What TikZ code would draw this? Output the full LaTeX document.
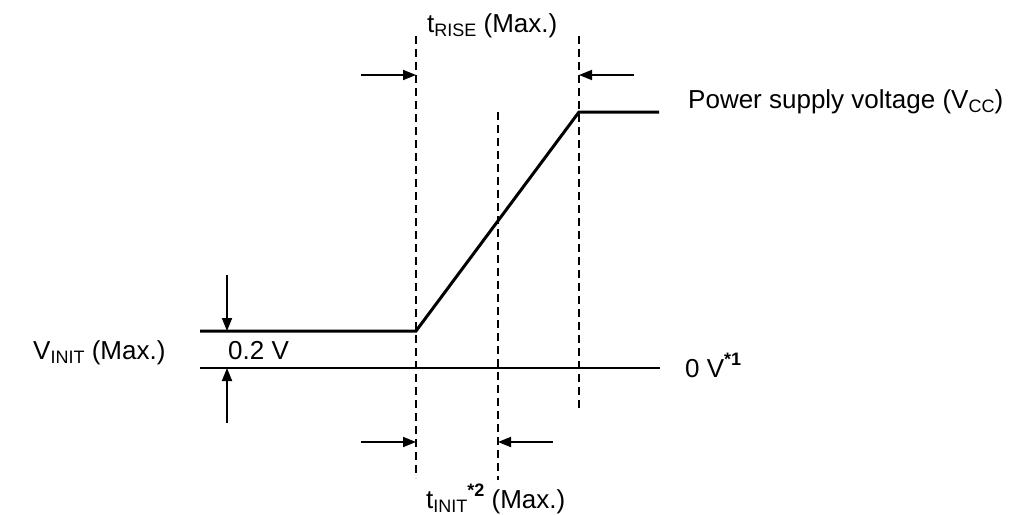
\documentclass[tikz,border=0pt]{standalone}
\usepackage{fontspec}
\setmainfont{Liberation Sans}
\usetikzlibrary{arrows.meta}
\newcommand{\mysub}[1]{\raisebox{-0.3ex}{\fontsize{18}{18}\selectfont #1}}
\newcommand{\mysup}[1]{\raisebox{0.85ex}{\fontsize{18}{18}\selectfont\bfseries #1}}
\begin{document}
\begin{tikzpicture}[x=1pt,y=-1pt,
  lbl/.style={inner sep=0pt,font=\fontsize{26}{29}\selectfont},
  sig/.style={line width=3pt},
  base/.style={line width=1.8pt},
  guide/.style={line width=1.6pt,dash pattern=on 8pt off 5pt},
  dim/.style={line width=1.8pt,-{Triangle[length=13pt,width=10pt]}}]
\useasboundingbox (0,0) rectangle (1017,514);
% coordinates
\coordinate (b0) at (200,368);
\coordinate (b1) at (660,368);
\coordinate (l0) at (200,331);
\coordinate (l1) at (416,331);
\coordinate (h0) at (579,112);
\coordinate (h1) at (659,112);
\coordinate (d1t) at (416,36);
\coordinate (d1b) at (416,478);
\coordinate (d2t) at (498,112);
\coordinate (d2b) at (498,480);
\coordinate (d3t) at (579,36);
\coordinate (d3b) at (579,408);
\coordinate (ra0) at (361,75);
\coordinate (ra1) at (416,75);
\coordinate (rb0) at (634,75);
\coordinate (rb1) at (579,75);
\coordinate (ia0) at (361,442);
\coordinate (ia1) at (416,442);
\coordinate (ib0) at (553,442);
\coordinate (ib1) at (498,442);
\coordinate (va0) at (227,275);
\coordinate (va1) at (227,331);
\coordinate (vb0) at (227,423);
\coordinate (vb1) at (227,368);
% signal
\draw[base] (b0) -- (b1);
\draw[sig,line join=miter] (l0) -- (l1) -- (h0) -- (h1);
% guides
\draw[guide] (d1t) -- (d1b);
\draw[guide] (d2t) -- (d2b);
\draw[guide] (d3t) -- (d3b);
% dimension arrows
\draw[dim] (ra0) -- (ra1);
\draw[dim] (rb0) -- (rb1);
\draw[dim] (ia0) -- (ia1);
\draw[dim] (ib0) -- (ib1);
\draw[dim] (va0) -- (va1);
\draw[dim] (vb0) -- (vb1);
% labels
\node[lbl,anchor=base west] (trise) at (427,32) {t\mysub{RISE} (Max.)};
\node[lbl,anchor=base west] (tinit) at (426,508) {t\mysub{INIT}\mysup{*2} (Max.)};
\node[lbl,anchor=base west] (vcc) at (688,108) {Power supply voltage (V\mysub{CC})};
\node[lbl,anchor=base west] (zero) at (685,377) {0 V\mysup{*1}};
\node[lbl,anchor=base west] (v02) at (228,359) {0.2 V};
\node[lbl,anchor=base west] (vinit) at (33,359) {V\mysub{INIT} (Max.)};
\end{tikzpicture}
\end{document}
